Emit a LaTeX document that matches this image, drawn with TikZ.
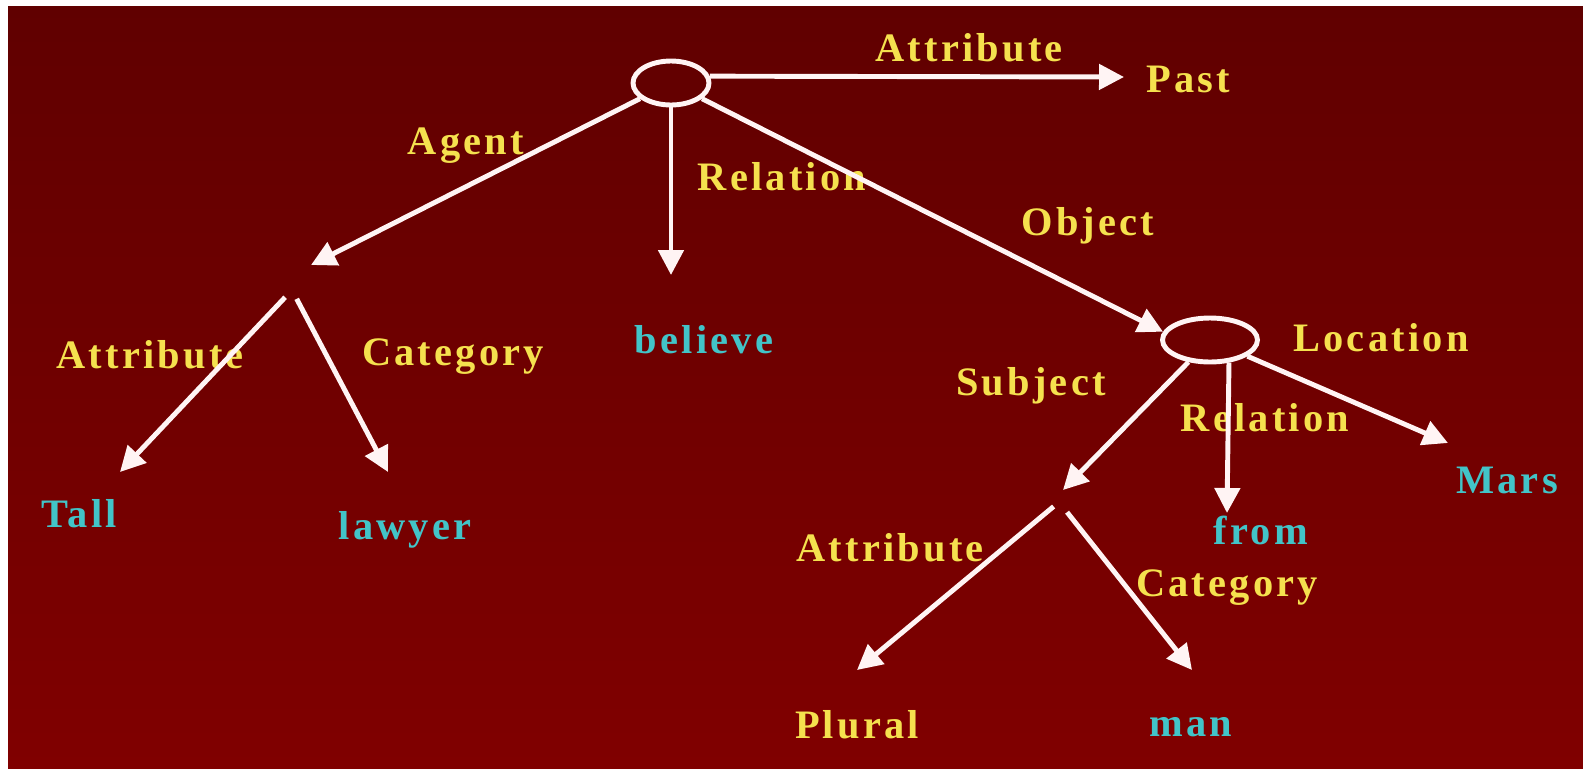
\documentclass[tikz,border=0pt]{standalone}
\usepackage{fontspec}
\setmainfont{Liberation Serif}[LetterSpace=8]
\usetikzlibrary{arrows.meta,shapes.geometric}
\definecolor{BgTop}{HTML}{600000}
\definecolor{BgBottom}{HTML}{800000}
\definecolor{LabelYellow}{HTML}{F5E14E}
\definecolor{WordCyan}{HTML}{42C4C8}
\definecolor{ArrowWhite}{HTML}{FFF4F4}
\tikzset{
  rel/.style={text=LabelYellow, font=\fontsize{23}{27}\selectfont\bfseries},
  word/.style={text=WordCyan, font=\fontsize{23}{27}\selectfont\bfseries},
  conc/.style={ellipse, draw=ArrowWhite, line width=2.8pt, minimum width=1.52cm, minimum height=0.88cm},
  arr/.style={draw=ArrowWhite, line width=2.8pt, -{Triangle[length=0.5cm,width=0.5cm]}},
}

\begin{document}
\begin{tikzpicture}[x=0.02cm, y=-0.02cm]
				% 背景
				\useasboundingbox (0,0) rectangle (1583,768);
				\shade[top color=BgTop, bottom color=BgBottom] (8,6) rectangle (1583,768);
				% 概念节点
				\node[conc] (m) at (671,83) {};
				\node[conc, minimum width=1.9cm] (s) at (1210,340) {};
				% 关系标签
				\node[rel] (attrtop) at (969,48) {Attribute};
				\node[rel] (past) at (1188,79) {Past};
				\node[rel] (agent) at (466,146) {Agent};
				\node[rel] (rela) at (782,177) {Relation};
				\node[rel] (object) at (1088,226) {Object};
				\node[rel] (loc) at (1381,338) {Location};
				\node[rel] (relb) at (1265,418) {Relation};
				\node[rel] (subject) at (1031,386) {Subject};
				\node[rel] (attra) at (150,355) {Attribute};
				\node[rel] (cata) at (453,357) {Category};
				\node[rel] (attrb) at (890,548) {Attribute};
				\node[rel] (catb) at (1227,588) {Category};
				\node[rel] (plural) at (857,725) {Plural};
				% 词
				\node[word] (believe) at (704,340) {believe};
				\node[word] (mars) at (1507,480) {Mars};
				\node[word] (from) at (1261,530) {from};
				\node[word] (man) at (1191,727) {man};
				\node[word] (tall) at (79,514) {Tall};
				\node[word] (lawyer) at (405,530) {lawyer};
				% 箭头端点
				\coordinate (pastend) at (1124,77);
				\coordinate (agentend) at (311,265);
				\coordinate (agentfork) at (292,290);
				\coordinate (relaend) at (671,275);
				\coordinate (tallend) at (120,472);
				\coordinate (lawyerend) at (388,472);
				\coordinate (locend) at (1448,443);
				\coordinate (relbend) at (1227,513);
				\coordinate (subjend) at (1063,490);
				\coordinate (subjfork) at (1059,502);
				\coordinate (pluralend) at (857,670);
				\coordinate (manend) at (1192,670);
				% 箭头
				\draw[arr] (m.10) -- (pastend);
				\draw[arr] (m) -- (agentend);
				\draw[arr] (m.south) -- (relaend);
				\draw[arr] (m) -- (s.170);
				\draw[arr, shorten <=0.2cm] (agentfork) -- (tallend);
				\draw[arr, shorten <=0.2cm] (agentfork) -- (lawyerend);
				\draw[arr] (s) -- (locend);
				\draw[arr] (s.-50) -- (relbend);
				\draw[arr] (s) -- (subjend);
				\draw[arr, shorten <=0.14cm] (subjfork) -- (pluralend);
				\draw[arr, shorten <=0.26cm] (subjfork) -- (manend);
\end{tikzpicture}
\end{document}
